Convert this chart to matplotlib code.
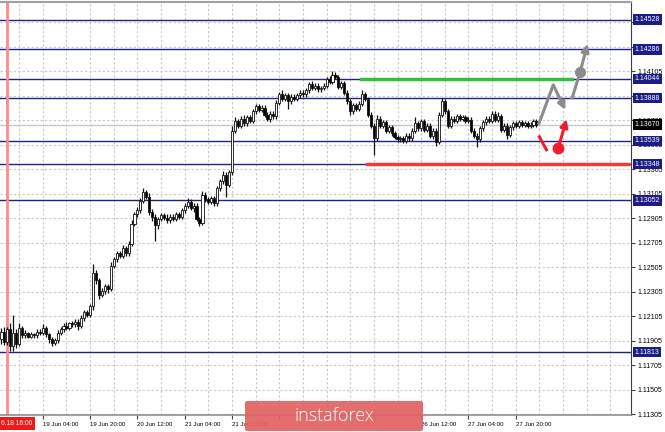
import matplotlib.pyplot as plt
import matplotlib.transforms as mtransforms
from matplotlib.patches import FancyBboxPatch

# H1 candles, bar 0 = 18 Jun 14:00
first_open = 1.1192
closes = [
    1.1198, 1.1190, 1.1200, 1.1186, 1.1197, 1.1188, 1.1201, 1.1195, 1.1197, 1.1194,
    1.1196, 1.1195, 1.1198, 1.1197, 1.1201, 1.1196, 1.1192, 1.1189, 1.1191, 1.1197,
    1.1200, 1.1203, 1.1201, 1.1205, 1.1204, 1.1206, 1.1203, 1.1209, 1.1214, 1.1212,
    1.1219, 1.1246, 1.1240, 1.1228, 1.1231, 1.1235, 1.1233, 1.1252, 1.1257, 1.1262,
    1.1260, 1.1266, 1.1262, 1.1270, 1.1286, 1.1294, 1.1297, 1.1305, 1.1312, 1.1308,
    1.1296, 1.1292, 1.1285, 1.1290, 1.1293, 1.1291, 1.1289, 1.1292, 1.1290, 1.1294,
    1.1292, 1.1297, 1.1301, 1.1304, 1.1299, 1.1301, 1.1290, 1.1287, 1.1310, 1.1306,
    1.1304, 1.1307, 1.1303, 1.1315, 1.1321, 1.1326, 1.1318, 1.1328, 1.1362, 1.1370,
    1.1366, 1.1372, 1.1368, 1.1373, 1.1370, 1.1378, 1.1382, 1.1379, 1.1381, 1.1375,
    1.1372, 1.1376, 1.1374, 1.1385, 1.1392, 1.1388, 1.1391, 1.1386, 1.1390, 1.1388,
    1.1391, 1.1393, 1.1392, 1.1395, 1.1400, 1.1397, 1.1399, 1.1396, 1.1397, 1.1399,
    1.1404, 1.1402, 1.1408, 1.1406, 1.1398, 1.1401, 1.1393, 1.1386, 1.1378, 1.1383,
    1.1380, 1.1384, 1.1392, 1.1388, 1.1375, 1.1366, 1.1356, 1.1372, 1.1366, 1.1369,
    1.1362, 1.1365, 1.1360, 1.1357, 1.1355, 1.1356, 1.1354, 1.1358, 1.1356, 1.1362,
    1.1368, 1.1364, 1.1370, 1.1363, 1.1366, 1.1358, 1.1362, 1.1353, 1.1375, 1.1386,
    1.1378, 1.1366, 1.1372, 1.1370, 1.1374, 1.1372, 1.1373, 1.1370, 1.1371, 1.1362,
    1.1358, 1.1355, 1.1364, 1.1369, 1.1372, 1.1370, 1.1376, 1.1371, 1.1374, 1.1363,
    1.1366, 1.1359, 1.1365, 1.1368, 1.1366, 1.1369, 1.1367, 1.1368, 1.1366, 1.1367,
    1.1370, 1.1367,
]
# wick lengths beyond the body, in pips
wick_up = [
    3, 4, 2, 5, 15, 3, 4, 2, 2, 1,
    2, 1, 2, 2, 3, 2, 1, 2, 2, 2,
    2, 2, 3, 1, 2, 2, 2, 3, 2, 2,
    2, 7, 2, 2, 3, 2, 2, 3, 2, 2,
    2, 3, 2, 2, 3, 2, 3, 2, 3, 2,
    3, 2, 2, 2, 2, 2, 3, 2, 2, 2,
    2, 2, 2, 3, 2, 2, 2, 2, 3, 2,
    2, 2, 2, 2, 2, 3, 2, 2, 4, 3,
    2, 2, 3, 2, 2, 2, 2, 2, 2, 2,
    2, 2, 2, 2, 2, 3, 2, 2, 2, 2,
    2, 2, 2, 2, 2, 3, 2, 2, 2, 2,
    2, 3, 3, 2, 2, 2, 2, 2, 2, 2,
    2, 2, 3, 2, 2, 2, 2, 3, 2, 2,
    2, 2, 2, 2, 2, 2, 2, 2, 2, 2,
    5, 2, 2, 2, 2, 2, 2, 2, 2, 3,
    2, 2, 2, 2, 2, 2, 2, 2, 2, 2,
    2, 2, 2, 2, 2, 2, 2, 2, 3, 2,
    2, 2, 2, 2, 2, 2, 2, 2, 2, 2,
    2, 2,
]
wick_dn = [
    4, 3, 3, 4, 4, 3, 2, 2, 2, 1,
    1, 2, 2, 2, 2, 2, 3, 3, 2, 2,
    2, 2, 2, 2, 2, 2, 4, 2, 2, 2,
    2, 3, 3, 3, 2, 2, 3, 2, 2, 2,
    2, 2, 2, 2, 2, 2, 2, 2, 2, 2,
    3, 4, 13, 3, 2, 2, 2, 2, 2, 2,
    2, 2, 2, 2, 2, 3, 2, 3, 2, 2,
    2, 2, 2, 2, 2, 2, 10, 2, 2, 2,
    2, 2, 2, 2, 2, 2, 2, 2, 2, 2,
    2, 3, 2, 2, 2, 2, 2, 6, 2, 2,
    2, 2, 2, 2, 2, 2, 2, 2, 2, 2,
    2, 2, 2, 2, 2, 2, 2, 2, 3, 2,
    2, 2, 2, 2, 2, 2, 14, 2, 2, 2,
    2, 2, 2, 2, 2, 2, 2, 2, 2, 2,
    2, 2, 2, 2, 2, 2, 3, 3, 2, 2,
    2, 2, 2, 2, 2, 2, 2, 2, 2, 2,
    2, 6, 2, 2, 2, 2, 2, 2, 2, 2,
    2, 4, 2, 2, 2, 2, 2, 2, 2, 2,
    2, 2,
]

levels = [1.14528, 1.14286, 1.14044, 1.13888, 1.13539, 1.13348, 1.13052, 1.11813]
last_price = 1.13670
green_level = 1.14044
green_span = [121.5, 193.0]
red_level = 1.13348
red_span = [123.6, 212.0]
marker_bar = 2  # 18 Jun 16:00

ytick_vals = [1.11305, 1.11505, 1.11705, 1.11905, 1.12105, 1.12305, 1.12505, 1.12705,
              1.12905, 1.13105, 1.13305, 1.13505, 1.13705, 1.13905, 1.14105, 1.14305,
              1.14505]
# labels fully hidden under the level boxes are left blank
ytick_hidden = [1.13905, 1.14305, 1.14505]
xtick_pos = [14, 30, 46, 62, 78, 94, 110, 126, 142, 158, 174]
xtick_labels = ["19 Jun 04:00", "19 Jun 20:00", "20 Jun 12:00", "21 Jun 04:00",
                "21 Jun 20:00", "", "", "",
                "26 Jun 12:00", "27 Jun 04:00", "27 Jun 20:00"]

# forecast sketches (bar index, price)
gray_zig_x = [181.7, 186.7, 190.8]
gray_zig_y = [1.13669, 1.13995, 1.13791]
gray_up_x = [193.1, 195.8, 198.3]
gray_up_y = [1.13889, 1.14101, 1.14330]
red_slash_x = [182.0, 184.4]
red_slash_y = [1.13571, 1.13465]
red_up_x = [188.4, 191.2]
red_up_y = [1.13481, 1.13715]

plt.rcParams['font.family'] = ['Liberation Sans', 'DejaVu Sans']

fig = plt.figure(figsize=(6.65, 4.32), dpi=100)
ax = fig.add_axes([0.0, 1 - 415 / 432, 631 / 665, 413 / 432])

opens = [first_open] + closes[:-1]
xs = list(range(len(closes)))
highs = [max(o, c) + u * 0.0001 for o, c, u in zip(opens, closes, wick_up)]
lows = [min(o, c) - d * 0.0001 for o, c, d in zip(opens, closes, wick_dn)]

ax.vlines(xs, lows, highs, color='#111111', lw=0.9, zorder=3)
for x, o, c in zip(xs, opens, closes):
    bottom = min(o, c)
    h = max(abs(c - o), 0.00003)
    face = 'white' if c >= o else 'black'
    ax.bar(x, h, bottom=bottom, width=0.72, color=face, edgecolor='#111111', lw=0.6, zorder=4)

# levels
for lv in levels:
    ax.axhline(lv, color='#21218c', lw=1.0, zorder=2)
ax.axhline(last_price, color='#c8c8c8', lw=1.0, zorder=1.8)
ax.plot(green_span, [green_level, green_level], color='#2fc23a', lw=2.5, zorder=5)
ax.plot(red_span, [red_level, red_level], color='#f03c3c', lw=2.5, zorder=5)
ax.axvline(marker_bar, color='#ff8a8a', lw=2, zorder=2)

# forecast arrows
akw = dict(arrowstyle='-|>', lw=2.2, mutation_scale=11, shrinkA=0, shrinkB=0)
ax.plot(gray_zig_x[:2], gray_zig_y[:2], color='#8c8c8c', lw=2.2, zorder=6, solid_capstyle='butt')
ax.annotate('', xy=(gray_zig_x[2], gray_zig_y[2]), xytext=(gray_zig_x[1], gray_zig_y[1]),
            arrowprops=dict(color='#8c8c8c', **akw), zorder=6)
ax.plot(gray_up_x[:2], gray_up_y[:2], color='#8c8c8c', lw=2.2, zorder=6)
ax.plot(gray_up_x[1], gray_up_y[1], 'o', color='#8c8c8c', ms=7, zorder=7)
ax.annotate('', xy=(gray_up_x[2], gray_up_y[2]), xytext=(gray_up_x[1], gray_up_y[1]),
            arrowprops=dict(color='#8c8c8c', **akw), zorder=6)
ax.plot(red_slash_x, red_slash_y, color='#f01e2c', lw=2.2, zorder=6)
ax.plot(red_up_x[0], red_up_y[0], 'o', color='#f01e2c', ms=7.5, zorder=7)
ax.annotate('', xy=(red_up_x[1], red_up_y[1]), xytext=(red_up_x[0], red_up_y[0]),
            arrowprops=dict(color='#f01e2c', **akw), zorder=6)

# axes
ax.set_xlim(-0.5, 213)
ax.set_ylim(1.11300, 1.14672)
ax.yaxis.tick_right()
ax.set_yticks(ytick_vals)
ax.set_yticklabels(["" if v in ytick_hidden else "%.5f" % v for v in ytick_vals], fontsize=5)
ax.set_xticks(xtick_pos)
ax.set_xticklabels(xtick_labels, fontsize=4.4, ha='left')
ax.set_xticks(list(range(6, 213, 8)), minor=True)
ax.tick_params(axis='x', which='major', length=3, width=0.8, pad=2, color='#404040')
ax.tick_params(axis='x', which='minor', length=0)
ax.tick_params(axis='y', length=3, width=0.8, pad=2, color='#404040')
ax.grid(True, which='both', axis='x', color='#c8c8c8', lw=0.8, ls=(0, (2, 2)), zorder=0)
ax.grid(True, which='major', axis='y', color='#c8c8c8', lw=0.8, ls=(0, (2, 2)), zorder=0)
ax.set_axisbelow(True)
ax.spines['left'].set_visible(False)
ax.spines['top'].set_color('#a0a0a0')
ax.spines['top'].set_linewidth(1.5)
ax.spines['bottom'].set_color('#909090')
ax.spines['bottom'].set_linewidth(1.2)
ax.spines['right'].set_color('#404040')

# price labels on the right scale
trans = mtransforms.blended_transform_factory(ax.transAxes, ax.transData)
for lv in levels:
    ax.text(1.006, lv, "%.5f" % lv, transform=trans, fontsize=5, color='white',
            va='center', ha='left', zorder=10,
            bbox=dict(boxstyle='square,pad=0.25', fc='#1c1c86', ec='none'))
ax.text(1.006, last_price, "%.5f" % last_price, transform=trans, fontsize=5, color='white',
        va='center', ha='left', zorder=10,
        bbox=dict(boxstyle='square,pad=0.25', fc='black', ec='none'))

# vertical line time label
fig.text(1 / 665, 1 - 423.5 / 432, "6.18 16:00", fontsize=4.8, color='white', va='center', ha='left',
         bbox=dict(boxstyle='square,pad=0.45', fc='#f01818', ec='none'))

# watermark
logo = FancyBboxPatch((245 / 665, 1 / 432), 178 / 665, 30 / 432,
                      boxstyle='round,pad=0,rounding_size=0.004', transform=fig.transFigure,
                      fc='#e26262', ec='none', alpha=0.92)
fig.patches.append(logo)
fig.text(334 / 665, 1 - 416 / 432, "instaforex", fontsize=13, color='white',
         family=['Open Sans', 'DejaVu Sans'], weight='light', ha='center', va='center')

fig.savefig('out.png', dpi=100)
